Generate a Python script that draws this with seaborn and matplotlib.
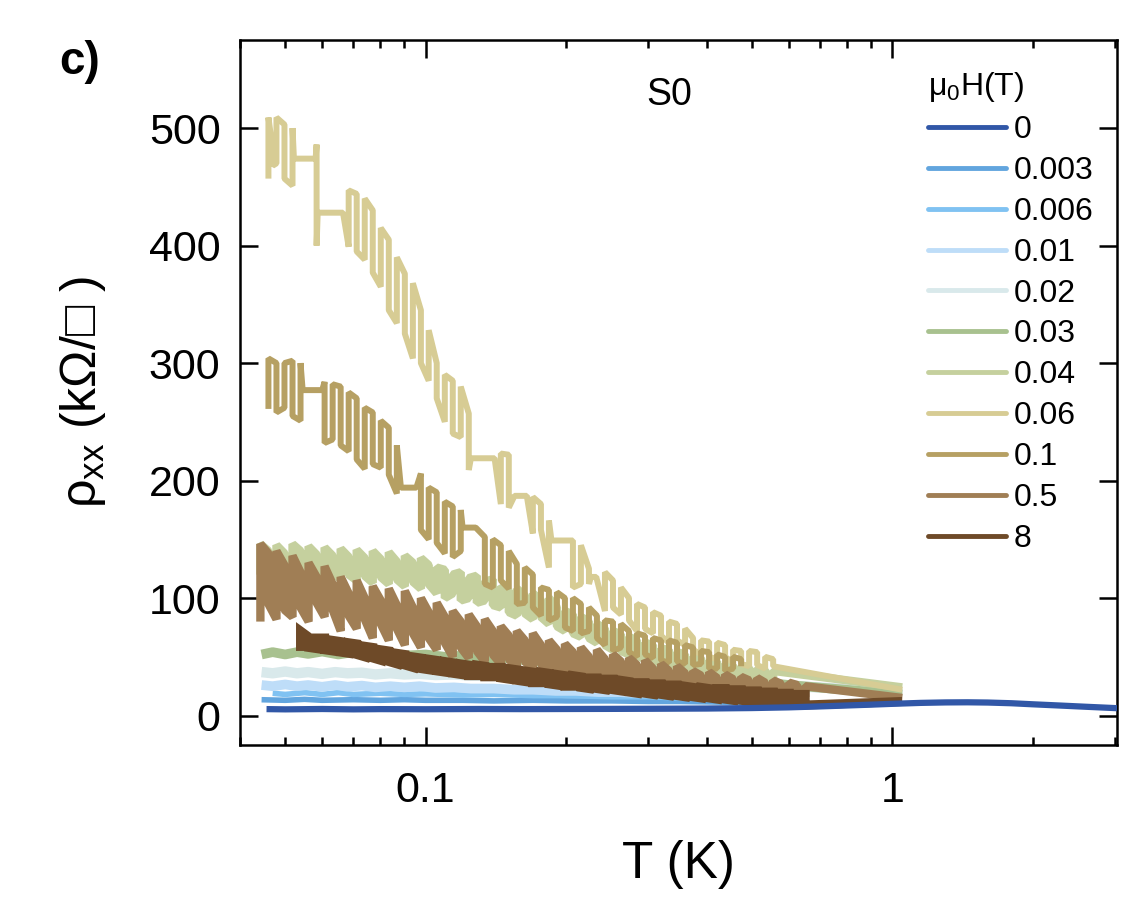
import numpy as np
import pandas as pd
import matplotlib
matplotlib.use('Agg')
import matplotlib.pyplot as plt
import seaborn as sns
from matplotlib.lines import Line2D
from matplotlib.ticker import NullFormatter, LogLocator

# field values (T) and curve colours
fields = ['0', '0.003', '0.006', '0.01', '0.02', '0.03', '0.04', '0.06', '0.1', '0.5', '8']
colors = ['#3157A7', '#62A5DE', '#80C2F2', '#BEDDF8', '#D9E9EB', '#A8C18F',
          '#C5D09E', '#D7CC94', '#B6A063', '#A07E55', '#6E4A28']

# rho_xx (kOhm/sq) vs T (K)
# smooth / weakly noisy curves
T_0 = [0.0456, 0.05, 0.06, 0.07, 0.08, 0.1, 0.13, 0.16, 0.2, 0.25, 0.3, 0.4, 0.5, 0.6, 0.7,
       0.8, 0.9, 1.0, 1.15, 1.3, 1.45, 1.6, 1.8, 2.0, 2.3, 2.6, 3.03]
R_0 = [5.5, 5.3, 5.6, 5.3, 5.5, 5.4, 5.6, 5.5, 5.6, 5.7, 5.8, 6.0, 6.4, 7.0, 7.8,
       8.6, 9.3, 10.0, 10.8, 11.2, 11.3, 11.1, 10.5, 9.6, 8.5, 7.5, 6.3]

T_0003 = [0.0445, 0.05, 0.055, 0.06, 0.07, 0.08, 0.09, 0.1, 0.12, 0.14, 0.17, 0.2, 0.25,
          0.3, 0.35, 0.42, 0.5, 0.6, 0.7]
R_0003 = [13.5, 13, 13.8, 13, 13.5, 13, 13.5, 13, 13, 12.5, 13, 12.5, 12.5,
          12, 12, 11.5, 11, 10.5, 10]

T_0006 = [0.047, 0.05, 0.055, 0.06, 0.065, 0.07, 0.08, 0.09, 0.1, 0.12, 0.14, 0.17, 0.2,
          0.25, 0.3, 0.35, 0.42, 0.5, 0.58]
R_0006 = [19, 18, 19.5, 18, 19.5, 18, 19, 18, 18.5, 17.5, 18, 17, 17,
          16, 16, 15, 14.5, 13.5, 12.5]

T_001 = [0.0445, 0.047, 0.050, 0.053, 0.056, 0.060, 0.064, 0.068, 0.073, 0.078, 0.084, 0.090,
         0.097, 0.105, 0.115, 0.125, 0.14, 0.155, 0.17, 0.19, 0.21, 0.235, 0.26, 0.29, 0.32,
         0.36, 0.40, 0.45, 0.50, 0.56, 0.62, 0.66]
R_001 = [26, 25, 26.5, 25, 26, 24.5, 26, 24.5, 25.5, 24, 25, 24,
         25, 23.5, 24, 23, 23, 22, 22, 21, 21, 20, 20, 19, 19,
         18, 17, 16, 16, 15, 14, 13]

T_002 = [0.0445, 0.047, 0.050, 0.053, 0.056, 0.060, 0.064, 0.068, 0.073, 0.078, 0.084, 0.090,
         0.097, 0.105, 0.115, 0.125, 0.14, 0.155, 0.17, 0.19, 0.21, 0.235, 0.26, 0.29, 0.32,
         0.36, 0.40, 0.45, 0.50, 0.56, 0.62, 1.05]
R_002 = [37, 36, 37.5, 36, 37, 35.5, 37, 36, 36.5, 35, 36, 35,
         35.5, 34.5, 35, 34, 34, 33, 33, 32, 32, 31, 31, 30, 30,
         29, 28, 27, 27, 26, 25, 20]

T_003 = [0.0445, 0.047, 0.05, 0.053, 0.056, 0.06, 0.065, 0.07, 0.075, 0.08, 0.09, 0.1, 0.11,
         0.12, 0.135, 0.15, 0.17, 0.19, 0.21, 0.24, 0.27, 0.3, 0.34, 0.38, 0.43, 0.48, 0.54,
         0.6, 1.05]
R_003 = [52, 54, 52, 54, 52.5, 54.5, 52, 54, 52, 53, 51, 52, 50,
         51, 48, 49, 46, 46, 43, 43, 40, 39, 36, 35, 32, 31, 28,
         26, 18]

# strongly noisy curves: temperatures of the vertical excursions, upper and lower ends
T_grid = [0.04424, 0.04603, 0.04789, 0.04982, 0.05184, 0.05393, 0.05611, 0.05838, 0.06073,
          0.06319, 0.06574, 0.06839, 0.07115, 0.07403, 0.07702, 0.08013, 0.08336, 0.08673,
          0.09023, 0.09388, 0.09767, 0.1015, 0.1056, 0.1099, 0.1143, 0.1189, 0.1237, 0.1287,
          0.1339, 0.1393, 0.1449, 0.1507, 0.1568, 0.1631, 0.1697, 0.1766, 0.1837, 0.1911,
          0.1988, 0.2068, 0.2151, 0.2238, 0.2328, 0.2422, 0.2520, 0.2621, 0.2727, 0.2837,
          0.2951, 0.3070, 0.3194, 0.3322, 0.3456, 0.3596, 0.3741, 0.3892, 0.4049, 0.4212,
          0.4381, 0.4558, 0.4742, 0.4933, 0.5132, 0.5339, 0.5554, 0.5778, 0.6011, 0.6253, 0.6505]

HI_04 = [146, 140, 145, 138, 146, 140, 144, 137, 143, 136, 142, 135, 141, 134, 140, 133, 139,
         131, 136, 130, 134, 128, 126, 124, 120, 122, 117, 119, 114, 116, 110, 106, 108, 102,
         104, 98, 100, 92, 89, 86, 84, 80, 78, 74, 72, 69, 67, 64, 62, 60, 57, 56, 54, 52, 50,
         49, 47, 46, 44, 43, 42, 41, 40, 39, 38]
LO_04 = [120, 124, 118, 122, 119, 124, 118, 121, 117, 122, 116, 120, 115, 119, 113, 118, 112,
         116, 110, 114, 108, 112, 104, 100, 104, 98, 100, 96, 98, 94, 92, 88, 85, 87, 82, 84,
         78, 76, 72, 70, 67, 66, 62, 60, 56, 55, 52, 51, 48, 47, 45, 43, 41, 40, 38, 36, 35,
         33, 32, 31, 30, 29, 28, 28, 27]
END_04 = (1.05, 24)

HI_05 = [146, 138, 140, 128, 136, 122, 130, 118, 127, 112, 118, 104, 115, 100, 110, 98, 108,
         94, 106, 92, 100, 88, 96, 84, 89, 80, 86, 76, 82, 72, 76, 68, 72, 64, 70, 60, 64, 56,
         61, 54, 58, 50, 56, 48, 52, 46, 49, 43, 47, 40, 44, 38, 42, 36, 38, 34, 37, 32, 35, 31,
         33, 30, 32, 28, 30, 27, 28, 26, 25]
LO_05 = [80, 95, 82, 90, 84, 92, 80, 96, 84, 90, 72, 85, 74, 82, 66, 78, 64, 74, 60, 70, 58,
         66, 56, 62, 50, 58, 49, 55, 46, 52, 44, 48, 41, 46, 40, 44, 36, 40, 34, 38, 32, 36, 31,
         34, 28, 31, 26, 30, 25, 28, 24, 27, 23, 25, 21, 24, 21, 22, 20, 21, 19, 20, 19, 19, 18,
         18, 17, 17, 16]
END_05 = (1.05, 15)

HI_8 = [72, 67, 66, 66, 64, 63, 62, 61, 59, 58, 56, 55, 53, 52, 50, 49, 48, 47, 46, 45, 44,
        43, 43, 42, 41, 41, 40, 39, 38, 37, 37, 36, 35, 34, 34, 33, 32, 32, 31, 31, 30, 29, 28,
        28, 27, 27, 26, 26, 25, 24, 24, 23, 23, 23, 22, 22, 21, 21, 20, 20, 19, 19, 18, 18]
LO_8 = [55, 58, 57, 56, 55, 54, 53, 52, 50, 49, 47, 46, 44, 43, 41, 40, 39, 38, 37, 36, 35,
        34, 34, 33, 33, 32, 31, 30, 29, 28, 28, 27, 26, 25, 25, 24, 23, 23, 22, 22, 21, 20, 19,
        19, 18, 18, 17, 17, 16, 16, 15, 15, 14, 14, 13, 13, 12, 12, 12, 11, 11, 10, 10, 9]
END_8 = (1.05, 12)

T_006 = [0.04603, 0.04700, 0.04789, 0.04982, 0.05184, 0.0522, 0.0581, 0.05838, 0.0587, 0.0665,
         0.06839, 0.07115, 0.07403, 0.07702, 0.08013, 0.08336, 0.08673, 0.09023, 0.09388,
         0.09767, 0.1015, 0.1056, 0.1099, 0.1143, 0.1189, 0.1237, 0.1250, 0.1405, 0.1449,
         0.1507, 0.1550, 0.1647, 0.1697, 0.1766, 0.1837, 0.1860, 0.1980, 0.2068, 0.2151,
         0.2238, 0.2260, 0.2320, 0.2422, 0.2520, 0.2621, 0.2727, 0.2837, 0.2951, 0.3070,
         0.3194, 0.3322, 0.3456, 0.3596, 0.3741, 0.3892, 0.4049, 0.4212, 0.4381, 0.4558,
         0.4742, 0.4933, 0.5132, 0.5339, 0.5554]
HI_06 = [509, 482, 509, 503, 500, 474, 474, 486, 428, 428, 447, 444, 440, 430, 415, 405, 390,
         376, 368, 345, 328, 300, 290, 285, 280, 257, 219, 219, 223, 222, 187, 187, 186, 180,
         166, 149, 149, 149, 145, 125, 118, 118, 122, 115, 109, 100, 95, 92, 88, 85, 80, 78,
         74, 66, 64, 63, 62, 60, 56, 55, 55, 54, 50, 48]
LO_06 = [457, 468, 470, 457, 451, 474, 474, 400, 428, 428, 399, 395, 388, 377, 365, 345, 334,
         325, 304, 300, 285, 270, 250, 240, 237, 209, 219, 219, 180, 177, 187, 187, 155, 158,
         126, 149, 149, 109, 112, 112, 118, 118, 89, 92, 86, 81, 72, 74, 70, 68, 62, 64, 60,
         56, 52, 50, 48, 50, 45, 44, 42, 43, 40, 42]
END_06 = (1.05, 22)

T_01 = [0.04603, 0.04789, 0.04982, 0.05184, 0.05393, 0.0545, 0.0600, 0.06073, 0.06319, 0.06574,
        0.06839, 0.07115, 0.07403, 0.07702, 0.08013, 0.08336, 0.08673, 0.0885, 0.0955, 0.09767,
        0.1015, 0.1056, 0.1099, 0.1143, 0.1189, 0.1200, 0.1280, 0.1339, 0.1393, 0.1449, 0.1507,
        0.1568, 0.1631, 0.1697, 0.1766, 0.1837, 0.1911, 0.1988, 0.2068, 0.2151, 0.2238, 0.2328,
        0.2422, 0.2520, 0.2621, 0.2727, 0.2837, 0.2951, 0.3070, 0.3194, 0.3322, 0.3456, 0.3596,
        0.3741, 0.3892, 0.4049, 0.4212, 0.4381, 0.4558, 0.4742]
HI_01 = [304, 300, 300, 302, 300, 277, 277, 284, 282, 280, 275, 270, 262, 258, 251, 245, 230,
         194, 194, 206, 194, 190, 182, 178, 175, 160, 160, 152, 150, 145, 140, 129, 126, 120,
         109, 107, 105, 100, 100, 95, 92, 85, 81, 80, 78, 72, 70, 68, 66, 64, 64, 62, 60, 58,
         55, 54, 52, 50, 50, 48]
LO_01 = [261, 258, 262, 255, 251, 277, 277, 232, 235, 230, 225, 218, 210, 214, 211, 205, 189,
         194, 194, 158, 150, 147, 138, 135, 140, 160, 160, 112, 109, 115, 108, 95, 96, 92, 85,
         81, 84, 75, 72, 70, 72, 66, 60, 55, 58, 54, 50, 52, 49, 47, 45, 46, 44, 43, 44, 40,
         40, 38, 40, 42]


def bars(T, hi, lo, end=None):
    # trace the measurement as up/down excursions at each temperature
    xs, ys = [], []
    for i, (t, h, l) in enumerate(zip(T, hi, lo)):
        xs += [t, t]
        ys += [l, h] if i % 2 == 0 else [h, l]
    if end is not None:
        xs.append(end[0])
        ys.append(end[1])
    return xs, ys


curves = [
    (T_0, R_0, 4.5),
    (T_0003, R_0003, 4.0),
    (T_0006, R_0006, 4.0),
    (T_001, R_001, 7.0),
    (T_002, R_002, 7.5),
    (T_003, R_003, 7.0),
    bars(T_grid[0:65], HI_04, LO_04, END_04) + (6.0,),
    bars(T_006, HI_06, LO_06, END_06) + (4.3,),
    bars(T_01, HI_01, LO_01) + (4.3,),
    bars(T_grid[0:69], HI_05, LO_05, END_05) + (6.0,),
    bars(T_grid[5:69], HI_8, LO_8, END_8) + (6.5,),
]
joins = ['round'] * 6 + ['bevel'] * 4 + ['miter']

sns.set_theme(style='ticks')
plt.rcParams['font.family'] = ['Liberation Sans', 'DejaVu Sans']
plt.rcParams['mathtext.fontset'] = 'custom'
plt.rcParams['mathtext.rm'] = 'Liberation Sans'
plt.rcParams['mathtext.it'] = 'Liberation Sans:italic'
plt.rcParams['text.color'] = 'black'
plt.rcParams['axes.labelcolor'] = 'black'

fig = plt.figure(figsize=(11.46, 9.23), dpi=100)
ax = fig.add_axes([0.2094, 0.1929, 0.7653, 0.7638])

for i, f in enumerate(fields):
    x, y, w = curves[i]
    df = pd.DataFrame({'T': x, 'rho': y})
    sns.lineplot(data=df, x='T', y='rho', sort=False, estimator=None, color=colors[i],
                 lw=w, ax=ax, legend=False, zorder=(20 if f == '0' else 2 + i),
                 solid_capstyle='butt', solid_joinstyle=joins[i])

ax.set_xscale('log')
ax.set_xlim(0.04, 3.03)
ax.set_ylim(-25, 575)
ax.set_xticks([0.1, 1])
ax.set_xticklabels(['0.1', '1'])
ax.xaxis.set_minor_locator(LogLocator(base=10, subs=np.arange(2, 10) * 1.0, numticks=20))
ax.xaxis.set_minor_formatter(NullFormatter())
ax.set_yticks(range(0, 501, 100))
ax.tick_params(which='both', direction='in', top=True, right=True, width=1.8, color='black',
               labelsize=31, labelcolor='black')
ax.tick_params(which='major', length=13)
ax.tick_params(which='minor', length=6)
ax.tick_params(axis='x', pad=19)
ax.tick_params(axis='y', pad=14)
for s in ax.spines.values():
    s.set_linewidth(1.8)
    s.set_color('black')

ax.set_xlabel('T (K)', fontsize=37)
ax.set_ylabel(r'ρ$_{\mathrm{xx}}$ (kΩ/□ )', fontsize=36)
ax.xaxis.set_label_coords(0.5, -0.135)
ax.yaxis.set_label_coords(-0.15, 0.5)

ax.text(0.49, 0.922, 'S0', transform=ax.transAxes, ha='center', va='center', fontsize=27)
fig.text(0.052, 0.957, 'c)', fontweight='bold', fontsize=33, va='top', ha='left')

handles = [Line2D([0], [0], color=c, lw=3.5, solid_capstyle='round') for c in colors]
ax.legend(handles, fields, title='μ$_0$H(T)', loc='upper left', bbox_to_anchor=(0.7845, 0.957),
          frameon=False, fontsize=23, title_fontsize=23, handlelength=2.45, handletextpad=0.22,
          labelspacing=0.34, borderpad=0, borderaxespad=0, alignment='left')

fig.savefig('out.png', dpi=100)
